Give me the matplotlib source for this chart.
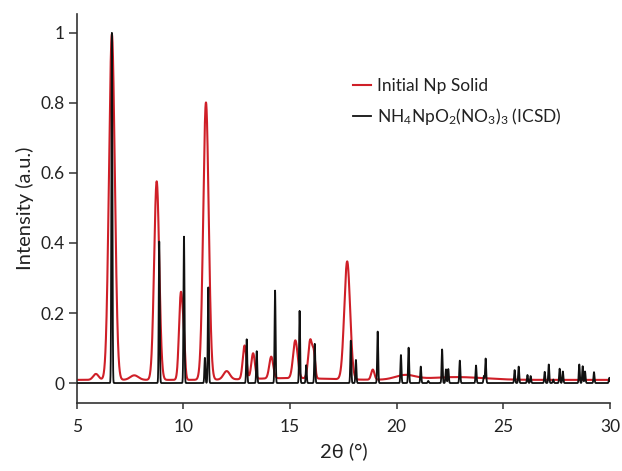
import numpy as np
import matplotlib.pyplot as plt

plt.rcParams['font.family'] = ['Lato', 'DejaVu Sans']
plt.rcParams['mathtext.fontset'] = 'custom'
plt.rcParams['mathtext.rm'] = 'Lato'
plt.rcParams['mathtext.it'] = 'Lato:italic'

# Initial Np solid: peak centre (2theta), height above background, FWHM
solid_pos = [5.9, 6.65, 7.7, 8.75, 9.88, 10.02, 11.06, 12.03, 12.87, 13.27,
             14.12, 15.0, 15.25, 15.95, 16.12, 17.68, 18.88, 20.4, 22.8]
solid_height = [0.017, 0.987, 0.013, 0.567, 0.242, 0.09, 0.792, 0.024, 0.096, 0.073,
                0.062, 0.005, 0.108, 0.11, 0.06, 0.337, 0.029, 0.013, 0.008]
solid_fwhm = [0.3, 0.32, 0.45, 0.28, 0.2, 0.15, 0.3, 0.35, 0.2, 0.2,
              0.22, 4.0, 0.25, 0.22, 0.15, 0.32, 0.18, 1.1, 3.0]
solid_background = 0.009

# NH4NpO2(NO3)3 reference pattern (ICSD)
icsd_pos = [6.65, 8.87, 10.03, 11.01, 11.17, 12.97, 13.44, 14.30, 15.45, 15.76,
            16.16, 17.85, 18.09, 19.11, 20.20, 20.56, 21.13, 21.48, 22.13, 22.31,
            22.42, 22.96, 23.72, 24.09, 24.17, 25.53, 25.72, 26.13, 26.28, 26.94,
            27.13, 27.34, 27.64, 27.79, 28.56, 28.72, 28.83, 29.25, 29.97]
icsd_height = [1.0, 0.404, 0.418, 0.072, 0.273, 0.125, 0.091, 0.264, 0.206, 0.051,
               0.112, 0.121, 0.066, 0.147, 0.080, 0.101, 0.047, 0.006, 0.096, 0.039,
               0.040, 0.064, 0.050, 0.020, 0.070, 0.037, 0.047, 0.023, 0.020, 0.032,
               0.053, 0.010, 0.041, 0.033, 0.053, 0.048, 0.033, 0.031, 0.015]
icsd_fwhm = 0.055


def pattern(tt, pos, height, fwhm):
    fwhm = np.broadcast_to(np.asarray(fwhm, float), (len(pos),))
    y = np.zeros_like(tt)
    for p, h, w in zip(pos, height, fwhm):
        y += h * np.exp(-4 * np.log(2) * ((tt - p) / w) ** 2)
    return y


tt = np.linspace(5, 30, 5001)
solid = solid_background + pattern(tt, solid_pos, solid_height, solid_fwhm)
icsd = pattern(tt, icsd_pos, icsd_height, icsd_fwhm)

fig = plt.figure(figsize=(6.22, 4.71), dpi=100)
ax = fig.add_axes([0.1233, 0.1444, 0.8574, 0.8259])

ax.plot(tt, solid, color='#cf1f28', lw=1.5, label='Initial Np Solid', zorder=2)
ax.plot(tt, icsd, color='#111111', lw=1.3,
        label=r'NH$_4$NpO$_2$(NO$_3$)$_3$ (ICSD)', zorder=3)

ax.set_xlim(5, 30)
ax.set_ylim(-0.057, 1.054)
ax.set_xticks([5, 10, 15, 20, 25, 30])
ax.set_yticks([0, 0.2, 0.4, 0.6, 0.8, 1.0])
ax.set_yticklabels(['0', '0.2', '0.4', '0.6', '0.8', '1'])

for side in ['top', 'right']:
    ax.spines[side].set_visible(False)
for side in ['left', 'bottom']:
    ax.spines[side].set_linewidth(1.2)
    ax.spines[side].set_color('#333333')

ax.tick_params(axis='both', direction='out', width=1.1, color='#333333',
               labelsize=12.5, labelcolor='#222222')
ax.tick_params(axis='x', length=4.5, pad=7)
ax.tick_params(axis='y', length=5.5, pad=3)

ax.set_xlabel('2θ (°)', fontsize=14.5, color='#222222', labelpad=5)
ax.set_ylabel('Intensity (a.u.)', fontsize=14.5, color='#222222', labelpad=5)

ax.legend(loc='upper left', bbox_to_anchor=(0.501, 0.858), frameon=False,
          borderpad=0, handlelength=1.05, handletextpad=0.35,
          labelspacing=0.7, fontsize=12.5, labelcolor='#222222')

fig.savefig('out.png', dpi=100)
